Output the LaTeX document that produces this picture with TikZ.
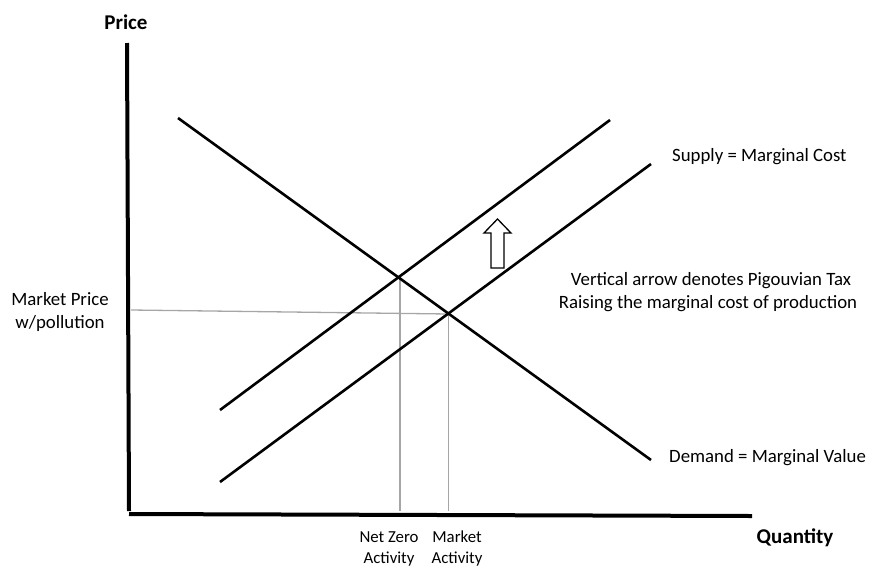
\documentclass[tikz,border=0pt]{standalone}
\usepackage{fontspec}
\setmainfont{Carlito}
\begin{document}
\begin{tikzpicture}[x=1pt,y=-1pt,
  axis/.style={line width=4pt},
  curve/.style={line width=2.6pt},
  guide/.style={draw=black!35,line width=1.3pt},
  lbl/.style={inner sep=0pt,font=\fontsize{18.8}{22}\selectfont},
  slbl/.style={inner sep=0pt,font=\fontsize{16.8}{20}\selectfont},
  blbl/.style={inner sep=0pt,font=\fontsize{21}{24}\selectfont\bfseries}]
\useasboundingbox (0,0) rectangle (874,568);
% axes
\coordinate (ytop) at (127,43);
\coordinate (orig) at (130,513);
\coordinate (xend) at (752,516);
\draw[axis] (ytop) -- (129,511);
\draw[axis] (129,514) -- (xend);
% curves
\coordinate (d1) at (178,118);
\coordinate (d2) at (651,460);
\coordinate (s1) at (220,482);
\coordinate (s2) at (651,164);
\coordinate (t1) at (220,410);
\coordinate (t2) at (610,120);
\coordinate (eq) at (448.5,314);
\coordinate (eqt) at (400,277);
\coordinate (ymk) at (131,310);
\coordinate (xnz) at (400,511);
\coordinate (xmk) at (448.5,511);
\draw[guide] (ymk) -- (eq);
\draw[guide] (eqt) -- (xnz);
\draw[guide] (eq) -- (xmk);
\draw[curve] (d1) -- (d2);
\draw[curve] (s1) -- (s2);
\draw[curve] (t1) -- (t2);
% arrow
\draw[line width=1.3pt,fill=white,line join=miter] (491,268) -- (491,233) -- (484,233) -- (497.5,219) -- (511,233) -- (504,233) -- (504,268) -- cycle;
% labels
\node[blbl] (price) at (126,22) {Price};
\node[blbl] (qty) at (795,538) {Quantity};
\node[lbl,anchor=west] (supply) at (672,157) {Supply = Marginal Cost};
\node[lbl,anchor=west] (demand) at (669,458) {Demand = Marginal Value};
\node[lbl] (tax1) at (711,281) {Vertical arrow denotes Pigouvian Tax};
\node[lbl] (tax2) at (708,304) {Raising the marginal cost of production};
\node[lbl] (mp1) at (60,299) {Market Price};
\node[lbl] (mp2) at (60,323) {w/pollution};
\node[slbl] (nz1) at (389,537) {Net Zero};
\node[slbl] (nz2) at (389,559) {Activity};
\node[slbl] (ma1) at (457,537) {Market};
\node[slbl] (ma2) at (457,559) {Activity};
\end{tikzpicture}
\end{document}
